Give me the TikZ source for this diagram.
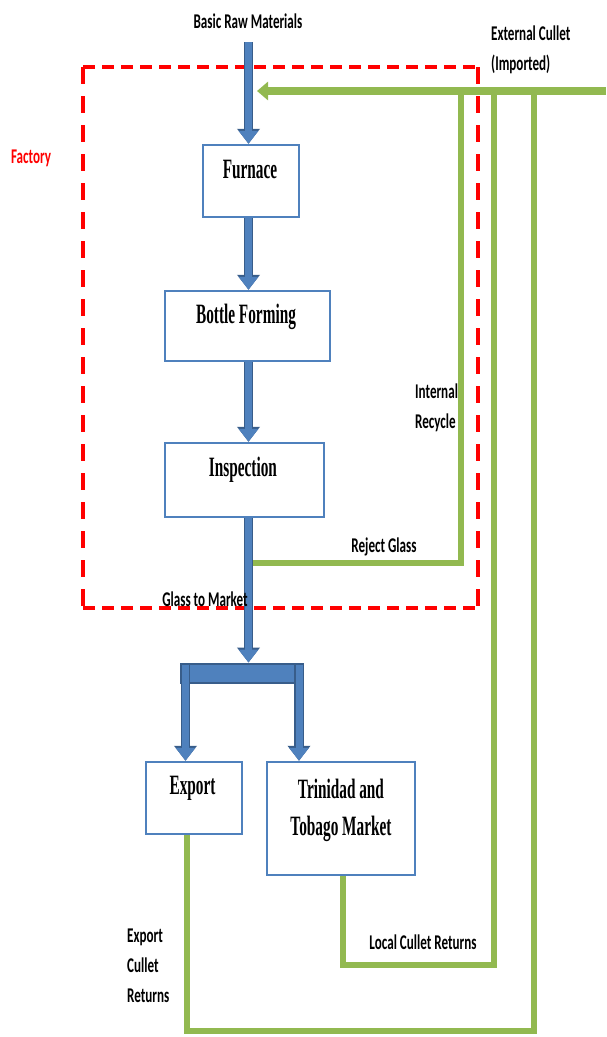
\documentclass[tikz,border=0pt]{standalone}
\usepackage{graphicx}
\usepackage{fontspec}
\setmainfont{Liberation Serif}
\newfontfamily\lblfont{Carlito}
\usetikzlibrary{arrows.meta}
\definecolor{bl}{RGB}{79,129,189}
\definecolor{bldark}{RGB}{56,93,138}
\definecolor{gr}{RGB}{146,185,80}
\definecolor{rd}{RGB}{255,0,0}
\newcommand\vs[1]{\scalebox{1}[1.6]{#1}}
\newcommand\vt[1]{\scalebox{1}[1.83]{#1}}
\begin{document}
\begin{tikzpicture}[x=1pt,y=-1pt,
  box/.style={draw=bl, line width=2.5pt, fill=white, inner sep=0pt},
  btxt/.style={font=\bfseries\fontsize{15.3}{18}\selectfont, anchor=base, inner sep=0pt},
  lbl/.style={font=\lblfont\bfseries\fontsize{13.1}{16}\selectfont, anchor=base, inner sep=0pt},
  blarrow/.style={draw=bl, line width=7pt, -{Triangle[width=19pt,length=13pt]},
     preaction={draw=bldark, line width=9.5pt, -{Triangle[width=22pt,length=15pt]}}},
  grline/.style={draw=gr, line width=5.5pt, line join=miter},
  reddash/.style={draw=rd, line width=3.8pt},
]
\useasboundingbox (0,0) rectangle (606,1037);

% factory boundary
\coordinate (f1) at (83,67);
\coordinate (f2) at (478,67);
\coordinate (f3) at (478,608);
\coordinate (f4) at (83,608);
\draw[reddash, dash pattern=on 12pt off 7pt] (f1) -- (f2);
\draw[reddash, dash pattern=on 12pt off 7pt] (f4) -- (f3);
\draw[reddash, dash pattern=on 17pt off 12pt] (f1) -- (f4);
\draw[reddash, dash pattern=on 17pt off 12pt] (f2) -- (f3);
\node[lbl, text=rd] (factory) at (31,163) {\vs{Factory}};

% boxes
\node[box, minimum width=96pt, minimum height=72pt] (furnace) at (251,181) {};
\node[btxt] (furnacet) at (250,178) {\vt{Furnace}};
\node[box, minimum width=165pt, minimum height=70pt] (bottle) at (247.5,326) {};
\node[btxt] (bottlet) at (246,323) {\vt{Bottle Forming}};
\node[box, minimum width=159pt, minimum height=74pt] (insp) at (244.5,480) {};
\node[btxt] (inspt) at (243,476) {\vt{Inspection}};
\node[box, minimum width=96pt, minimum height=72pt] (export) at (194,798) {};
\node[btxt] (exportt) at (192.5,794) {\vt{Export}};
\node[box, minimum width=148pt, minimum height=113pt] (tt) at (341,818.5) {};
\node[btxt] (tt1) at (341,798) {\vt{Trinidad and}};
\node[btxt] (tt2) at (341,835) {\vt{Tobago Market}};

% split bar
\node[draw=bldark, fill=bl, line width=2pt, minimum width=122pt, minimum height=19pt, inner sep=0pt] (split) at (242,673) {};

% blue arrows
\coordinate (ax) at (248.5,0);
\coordinate (raw) at (248.5,42);
\coordinate (lx) at (185.5,0);
\coordinate (rx) at (299,0);
\draw[blarrow] (raw) -- (furnace.north -| ax);
\draw[blarrow] (furnace.south -| ax) -- (bottle.north -| ax);
\draw[blarrow] (bottle.south -| ax) -- (insp.north -| ax);
\draw[blarrow] (insp.south -| ax) -- (split.north -| ax);
\draw[blarrow] ([yshift=-2pt]split.north -| lx) -- (export.north -| lx);
\draw[blarrow] ([yshift=-2pt]split.north -| rx) -- (tt.north -| rx);

% green cullet lines
\coordinate (ext) at (606,91);
\coordinate (extend) at (257,91);
\coordinate (rj) at (253,563);
\coordinate (ttx) at (343,0);
\coordinate (exx) at (187,0);
\draw[grline] (rj) -- (461,563) -- (461,93);
\draw[grline] (tt.south -| ttx) -- (343,965) -- (494,965) -- (494,93);
\draw[grline] (export.south -| exx) -- (187,1031) -- (534,1031) -- (534,93);
\draw[draw=gr, line width=8pt, -{Triangle[width=18pt,length=11pt]}] (ext) -- (extend);

% labels
\node[lbl] (rawt) at (248,28) {\vs{Basic Raw Materials}};
\node[lbl, anchor=base west] (ext1) at (491,40) {\vs{External Cullet}};
\node[lbl, anchor=base west] (ext2) at (491,70) {\vs{(Imported)}};
\node[lbl, anchor=base west] (int1) at (415,398) {\vs{Internal}};
\node[lbl, anchor=base west] (int2) at (415,428) {\vs{Recycle}};
\node[lbl] (rejt) at (384,552) {\vs{Reject Glass}};
\node[lbl] (gtm) at (205,606) {\vs{Glass to Market}};
\node[lbl] (lcr) at (423,949) {\vs{Local Cullet Returns}};
\node[lbl, anchor=base west] (ecr1) at (127,942) {\vs{Export}};
\node[lbl, anchor=base west] (ecr2) at (127,972) {\vs{Cullet}};
\node[lbl, anchor=base west] (ecr3) at (127,1002) {\vs{Returns}};
\end{tikzpicture}
\end{document}
